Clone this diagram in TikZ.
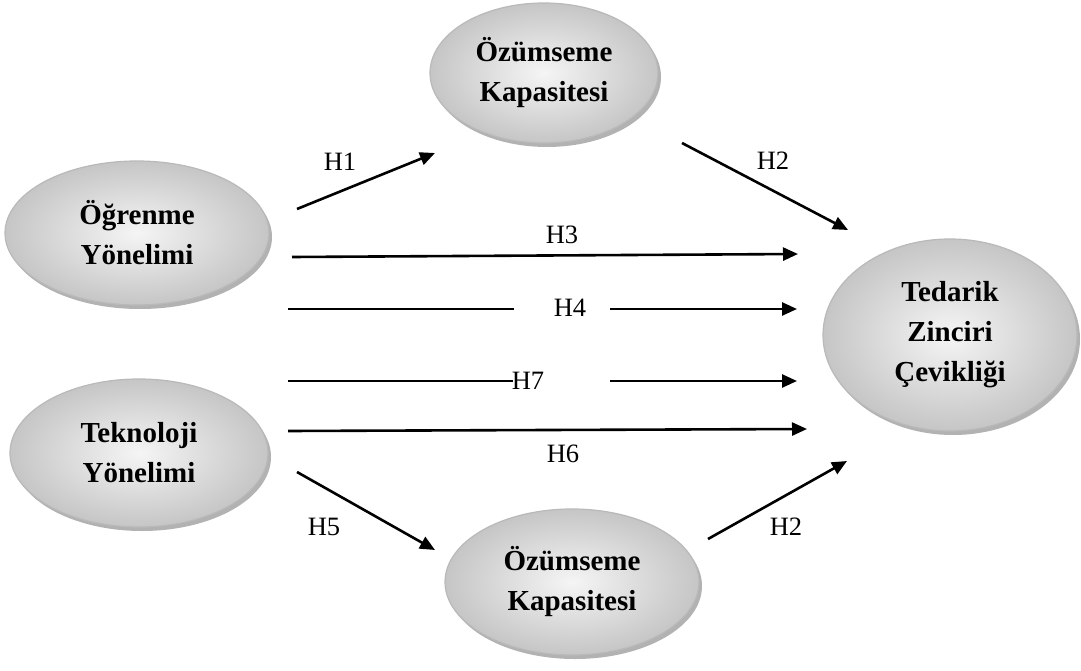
\documentclass[tikz,border=0pt]{standalone}
\usepackage{fontspec}
\setmainfont{Liberation Serif}
\usetikzlibrary{shapes.geometric,arrows.meta}

\tikzset{
  construct/.style={ellipse, draw=gray!55, line width=1.2pt,
    inner color=gray!8, outer color=gray!45,
    preaction={fill=gray!60, transform canvas={shift={(3pt,-4pt)}}},
    font=\bfseries\fontsize{29}{40}\selectfont, align=center, inner sep=0pt},
  hyp/.style={font=\fontsize{26.5}{30}\selectfont, inner sep=0pt},
  link/.style={line width=2.6pt, -{Triangle[length=15pt,width=13pt]}},
  plainlink/.style={line width=1.6pt}
}

\begin{document}
\begin{tikzpicture}[x=1pt,y=-1pt]
\useasboundingbox (0,0) rectangle (1081,671);

% constructs
\node[construct, minimum width=228pt, minimum height=140pt] (ozt) at (544,73) {Özümseme\\Kapasitesi};
\node[construct, minimum width=264pt, minimum height=144pt] (ogr) at (137,233) {Öğrenme\\Yönelimi};
\node[construct, minimum width=258pt, minimum height=148pt] (tek) at (139,453) {Teknoloji\\Yönelimi};
\node[construct, minimum width=254pt, minimum height=146pt] (ozb) at (572,582) {Özümseme\\Kapasitesi};
\node[construct, minimum width=254pt, minimum height=192pt] (ted) at (950,335) {Tedarik\\Zinciri\\Çevikliği};

% hypothesis labels
\node[hyp] (l1) at (340,162) {H1};
\node[hyp] (l2a) at (773,161) {H2};
\node[hyp] (l3) at (562,235) {H3};
\node[hyp] (l4) at (570,308) {H4};
\node[hyp] (l7) at (528,381) {H7};
\node[hyp] (l6) at (563,454) {H6};
\node[hyp] (l5) at (324,527) {H5};
\node[hyp] (l2b) at (786,527) {H2};

% arrow end points
\coordinate (a1s) at (297,209);  \coordinate (a1e) at (435,153);
\coordinate (a2s) at (682,143);  \coordinate (a2e) at (848,230);
\coordinate (a3s) at (292,257);  \coordinate (a3e) at (798,254);
\coordinate (a4s) at (288,309);  \coordinate (a4m) at (514,309);
\coordinate (a4r) at (610,309);  \coordinate (a4e) at (797,309);
\coordinate (a7s) at (288,381);  \coordinate (a7m) at (513,381);
\coordinate (a7r) at (610,381);  \coordinate (a7e) at (797,381);
\coordinate (a6s) at (288,431);  \coordinate (a6e) at (807,429);
\coordinate (a5s) at (297,472);  \coordinate (a5e) at (435,550);
\coordinate (a8s) at (708,539);  \coordinate (a8e) at (847,461);

% paths
\draw[link] (a1s) -- (a1e);
\draw[link] (a2s) -- (a2e);
\draw[link] (a3s) -- (a3e);
\draw[plainlink] (a4s) -- (a4m);
\draw[link] (a4r) -- (a4e);
\draw[plainlink] (a7s) -- (a7m);
\draw[link] (a7r) -- (a7e);
\draw[link] (a6s) -- (a6e);
\draw[link] (a5s) -- (a5e);
\draw[link] (a8s) -- (a8e);
\end{tikzpicture}
\end{document}
